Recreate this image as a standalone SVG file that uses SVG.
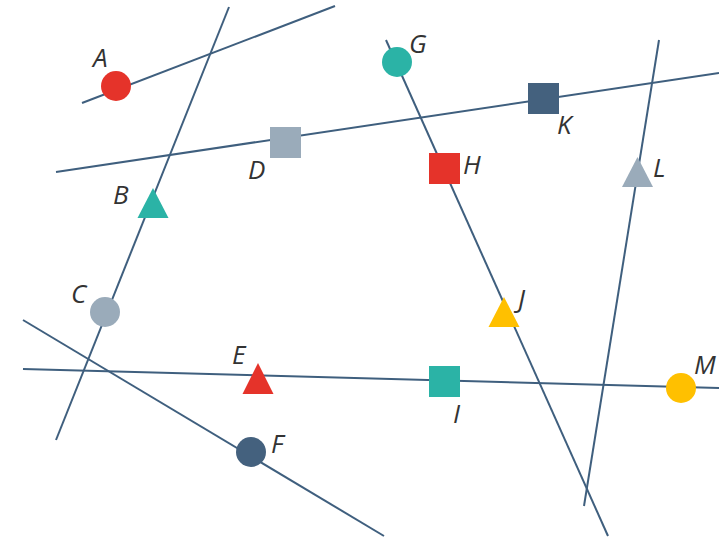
<svg xmlns="http://www.w3.org/2000/svg" width="719" height="538" viewBox="0 0 719 538">
<style>
.ln{stroke:#3f5f7e;stroke-width:2;fill:none}
.lb{font-family:"Open Sans","Noto Sans",sans-serif;font-style:italic;font-size:26px;fill:#333}
.red{fill:#e5332a}.teal{fill:#2bb3a6}.grey{fill:#9aabba}.navy{fill:#44617e}.yel{fill:#ffc000}
</style>
<rect width="719" height="538" fill="#fff"/>
<g id="connectors">
<line class="ln" x1="82" y1="103" x2="335" y2="6"/>
<line class="ln" x1="229" y1="7" x2="56" y2="440"/>
<line class="ln" x1="56" y1="172" x2="719" y2="73"/>
<line class="ln" x1="386" y1="40" x2="608" y2="536"/>
<line class="ln" x1="659" y1="40" x2="584" y2="506"/>
<line class="ln" x1="23" y1="369" x2="719" y2="388"/>
<line class="ln" x1="23" y1="320" x2="384" y2="536"/>
</g>
<g id="A"><circle class="red" cx="116" cy="86" r="15"/><text class="lb" x="93" y="67">A</text></g>
<g id="B"><polygon class="teal" points="153,188 168.5,218 137.5,218"/><text class="lb" x="113" y="204">B</text></g>
<g id="C"><circle class="grey" cx="105" cy="312" r="15"/><text class="lb" x="71" y="303">C</text></g>
<g id="D"><rect class="grey" x="270" y="127" width="31" height="31"/><text class="lb" x="248" y="179">D</text></g>
<g id="E"><polygon class="red" points="258,363 273.5,394 242.5,394"/><text class="lb" x="232" y="364">E</text></g>
<g id="F"><circle class="navy" cx="251" cy="452" r="15"/><text class="lb" x="271" y="453">F</text></g>
<g id="G"><circle class="teal" cx="397" cy="62" r="15"/><text class="lb" x="409" y="53">G</text></g>
<g id="H"><rect class="red" x="429" y="153" width="31" height="31"/><text class="lb" x="463" y="174">H</text></g>
<g id="I"><rect class="teal" x="429" y="366" width="31" height="31"/><text class="lb" x="453" y="423">I</text></g>
<g id="J"><polygon class="yel" points="504,297 519.5,327 488.5,327"/><text class="lb" x="518" y="308">J</text></g>
<g id="K"><rect class="navy" x="528" y="83" width="31" height="31"/><text class="lb" x="557" y="134">K</text></g>
<g id="L"><polygon class="grey" points="637.5,157 653,187 622,187"/><text class="lb" x="653" y="177">L</text></g>
<g id="M"><circle class="yel" cx="681" cy="388" r="15"/><text class="lb" x="694" y="374">M</text></g>
</svg>
